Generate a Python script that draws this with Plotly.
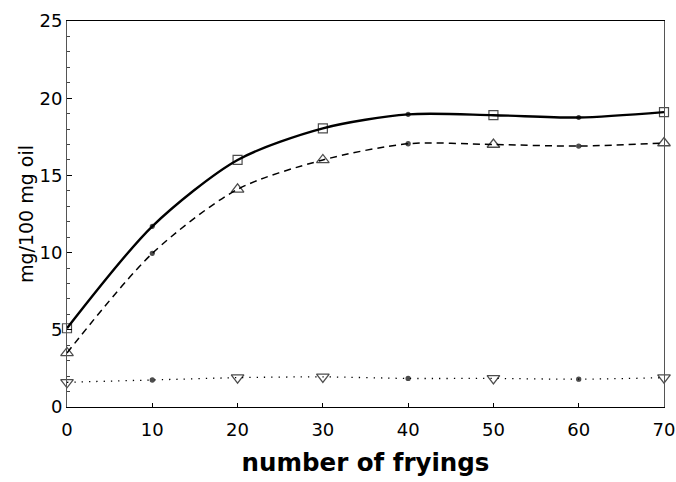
import plotly.graph_objects as go

fryings = [0, 10, 20, 30, 40, 50, 60, 70]
series_a = [5.1, 11.7, 16.0, 18.05, 18.95, 18.9, 18.75, 19.1]
series_b = [3.5, 9.95, 14.1, 16.0, 17.05, 17.0, 16.9, 17.1]
series_c = [1.6, 1.75, 1.9, 1.95, 1.85, 1.85, 1.8, 1.9]

sym_a = ["square-open", "circle", "square-open", "square-open", "circle", "square-open", "circle", "square-open"]
sym_b = ["triangle-up-open", "circle", "triangle-up-open", "triangle-up-open", "circle", "triangle-up-open", "circle", "triangle-up-open"]
sym_c = ["triangle-down-open", "circle", "triangle-down-open", "triangle-down-open", "circle", "triangle-down-open", "circle", "triangle-down-open"]

def sizes(syms, big):
    return [4 if s == "circle" else big for s in syms]

fig = go.Figure()
fig.add_trace(go.Scatter(
    x=fryings, y=series_a, mode="lines+markers",
    line=dict(color="black", width=2.4, shape="spline", smoothing=0.8),
    marker=dict(symbol=sym_a, size=sizes(sym_a, 9), color="black", line=dict(color="black", width=1.2)),
    showlegend=False, cliponaxis=False))
fig.add_trace(go.Scatter(
    x=fryings, y=series_b, mode="lines+markers",
    line=dict(color="black", width=1.5, dash="7px,5px", shape="spline", smoothing=0.8),
    marker=dict(symbol=sym_b, size=sizes(sym_b, 11), color="black", line=dict(color="black", width=1.3)),
    showlegend=False, cliponaxis=False))
fig.add_trace(go.Scatter(
    x=fryings, y=series_c, mode="lines+markers",
    line=dict(color="black", width=1.3, dash="1.3px,6px", shape="spline", smoothing=0.8),
    marker=dict(symbol=sym_c, size=sizes(sym_c, 11), color="black", line=dict(color="black", width=1.3)),
    showlegend=False, cliponaxis=False))

font_family = "DejaVu Sans, Verdana, sans-serif"

fig.update_layout(
    width=676, height=482,
    margin=dict(l=67, r=12, t=21, b=75),
    paper_bgcolor="white", plot_bgcolor="white",
    font=dict(family=font_family, color="black", size=18),
    xaxis=dict(
        range=[0, 70], tickvals=[0, 10, 20, 30, 40, 50, 60, 70],
        showgrid=False, zeroline=False, showline=True, linecolor="black", linewidth=1,
        mirror=True, ticks="inside", ticklen=4, tickcolor="black", automargin=False,
        tickfont=dict(size=18, family=font_family), ticklabelstandoff=6,
        title=dict(text="<b>number of fryings</b>", font=dict(size=24.5, family=font_family), standoff=15),
    ),
    yaxis=dict(
        range=[0, 25], tickvals=[0, 5, 10, 15, 20, 25],
        showgrid=False, zeroline=False, showline=True, linecolor="#555", linewidth=1,
        mirror=True, ticks="inside", ticklen=5, tickcolor="black", automargin=False,
        minor=dict(dtick=1, ticks="inside", ticklen=3, tickcolor="#444"),
        tickfont=dict(size=18, family=font_family),
        title=dict(text="mg/100 mg oil", font=dict(size=19, family=font_family), standoff=0),
    ),
)

fig.write_html(
    "out.html",
    config={"displayModeBar": False},
    post_script="document.body.style.margin='0';document.body.style.overflow='hidden';",
)
